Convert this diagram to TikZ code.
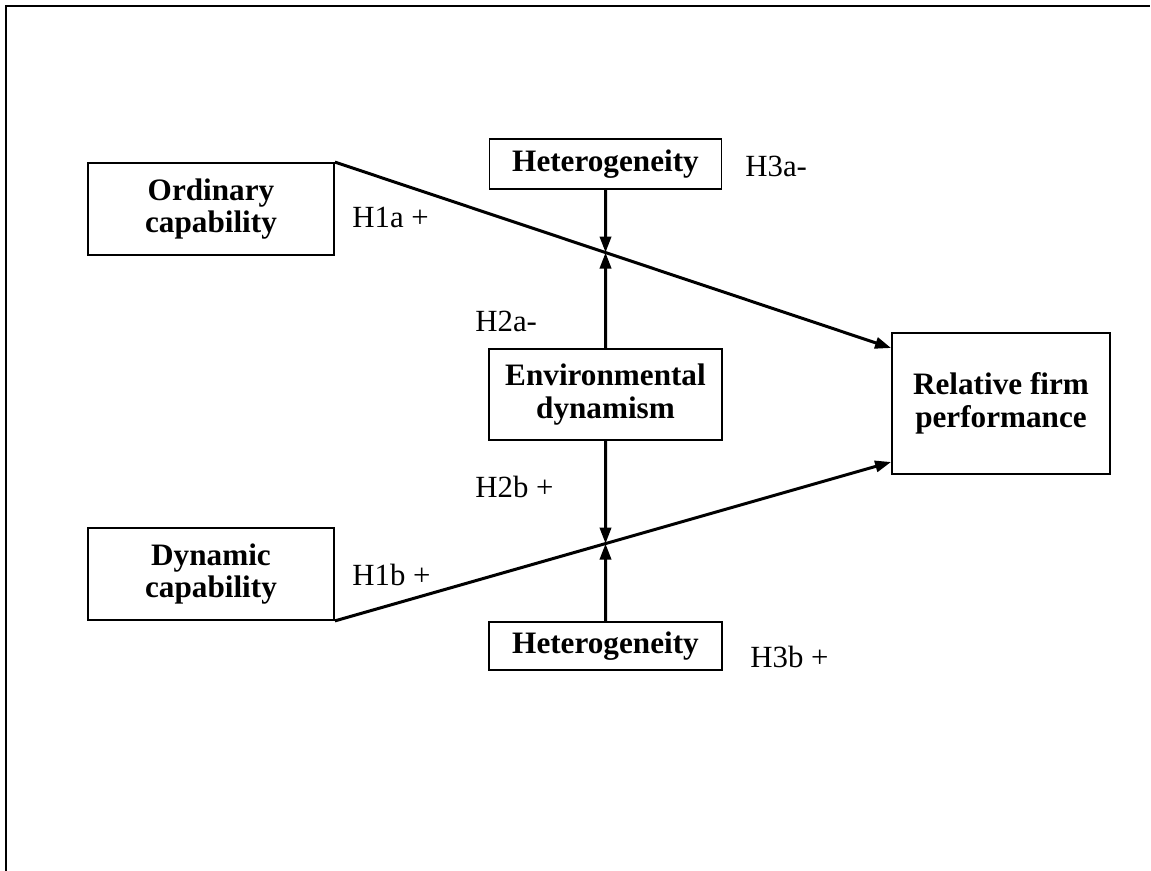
\documentclass[tikz,border=0pt]{standalone}
\usepackage{fontspec}
\setmainfont{Liberation Serif}
\usetikzlibrary{arrows.meta}
\begin{document}
\begin{tikzpicture}[x=0.5pt,y=-0.5pt,
  box/.style={draw,line width=0.9pt,align=center,inner sep=0pt,
    font=\fontsize{15.6}{16.3}\selectfont\bfseries},
  hyp/.style={anchor=base west,inner sep=0pt,font=\fontsize{15.4}{16.2}\selectfont},
  link/.style={line width=1.5pt,-{Triangle[length=8pt,width=5.6pt]}}]
\useasboundingbox (0,0) rectangle (1151,871);
% frame
\draw[line width=1.3pt] (6,871) -- (6,6) -- (1150,6);

% variables
\node[box,minimum width=123pt,minimum height=46pt] (oc) at (211,209) {Ordinary\\capability};
\node[box,minimum width=123pt,minimum height=46pt] (dc) at (211,574) {Dynamic\\capability};
\node[box,minimum width=116pt,minimum height=25pt] (ht) at (605.5,164) {Heterogeneity};
\node[box,minimum width=116.5pt,minimum height=45.5pt] (ed) at (605.5,394.5) {Environmental\\dynamism};
\node[box,minimum width=116.5pt,minimum height=24pt] (hb) at (605.5,646) {Heterogeneity};
\node[box,minimum width=109pt,minimum height=70.5pt] (rp) at (1001,403.5) {Relative firm\\performance};

% arrow targets on the outcome box
\coordinate (ra) at ([yshift=27.75pt]rp.west);
\coordinate (rb) at ([yshift=-29.25pt]rp.west);

% main effects
\draw[link] (oc.north east) -- (ra);
\draw[link] (dc.south east) -- (rb);

% moderation points
\coordinate (ma) at (intersection of oc.north east--ra and ht.south--ed.north);
\coordinate (mb) at (intersection of dc.south east--rb and ed.south--hb.north);
\draw[link] (ht.south) -- (ma);
\draw[link] (ed.north) -- (ma);
\draw[link] (ed.south) -- (mb);
\draw[link] (hb.north) -- (mb);

% hypothesis labels
\node[hyp] (h3a) at (745,177) {H3a-};
\node[hyp] (h1a) at (352,228) {H1a +};
\node[hyp] (h2a) at (475,332) {H2a-};
\node[hyp] (h2b) at (475,497) {H2b +};
\node[hyp] (h1b) at (352,585) {H1b +};
\node[hyp] (h3b) at (750,667) {H3b +};
\end{tikzpicture}
\end{document}
